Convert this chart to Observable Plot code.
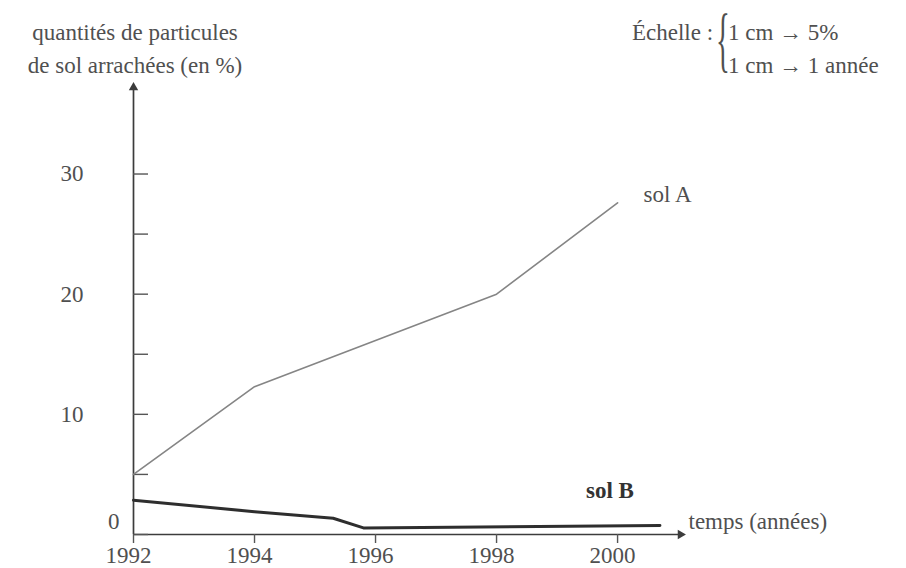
<!DOCTYPE html>
<html><head><meta charset="utf-8">
<script src="https://cdn.jsdelivr.net/npm/d3@7"></script>
<script src="https://cdn.jsdelivr.net/npm/@observablehq/plot@0.6"></script>
<style>
body{margin:0;background:#fff;font-family:"Liberation Serif",serif;color:#505050}
#wrap{position:relative;width:906px;height:568px;overflow:hidden}
#head{position:relative;height:80px;font-size:23px}
#head div{position:absolute;white-space:nowrap;line-height:33px}
#brace{font-size:72px;line-height:1 !important;transform:scaleX(0.4);transform-origin:left top;font-weight:normal}
#chart svg{display:block}
</style></head><body>
<div id="wrap">
  <div id="head">
    <div id="ytitle" style="left:0;width:270px;top:16px;text-align:center"></div>
    <div id="scaleLbl" style="left:632px;top:16px"></div>
    <div id="brace" style="left:716px;top:3px">{</div>
    <div id="scaleTxt" style="left:728px;top:16px"></div>
  </div>
  <div id="chart"></div>
</div>
<script>
// ---- data ----
const yearsA = [1992, 1994, 1998, 2000];
const valuesA = [5, 12.3, 20, 27.6];
const yearsB = [1992, 1994, 1995.3, 1995.8, 2000.7];
const valuesB = [2.85, 1.9, 1.35, 0.55, 0.75];
const xTicks = [1992, 1994, 1996, 1998, 2000];
const yTicks = [0, 5, 10, 15, 20, 25, 30];
const yLabelTicks = [10, 20, 30];
const xDomain = [1992, 2001.04];
const yDomain = [0, 37.2];
const yTitleLines = ["quantités de particules", "de sol arrachées (en %)"];
const scaleLabel = "Échelle :";
const scaleLines = ["1 cm → 5%", "1 cm → 1 année"];
const xTitle = "temps (années)";
const nameA = "sol A", nameB = "sol B";

document.getElementById("ytitle").innerHTML = yTitleLines.join("<br>");
document.getElementById("scaleLbl").textContent = scaleLabel;
document.getElementById("scaleTxt").innerHTML = scaleLines.join("<br>");

const dataA = yearsA.map((x, i) => ({x, y: valuesA[i]}));
const dataB = yearsB.map((x, i) => ({x, y: valuesB[i]}));
const tips = [{x: xDomain[0], y: yDomain[1], r: 0}, {x: xDomain[1], y: yDomain[0], r: 90}];

const chart = Plot.plot({
  width: 906, height: 488,
  marginLeft: 133, marginRight: 226, marginTop: 7, marginBottom: 34,
  x: {domain: xDomain, label: null},
  y: {domain: yDomain, label: null},
  style: {fontFamily: "Liberation Serif", fontSize: "23px", color: "#505050", background: "transparent"},
  marks: [
    Plot.ruleY([yDomain[0]], {stroke: "#3c3c3c", strokeWidth: 1.7}),
    Plot.ruleX([xDomain[0]], {stroke: "#3c3c3c", strokeWidth: 1.7}),
    Plot.dot(tips, {x: "x", y: "y", rotate: "r", symbol: "triangle", r: 3.5, fill: "#3c3c3c", stroke: null}),
    Plot.axisY({ticks: yTicks, tickSize: 15, dx: 15, tickFormat: () => "", stroke: "#555", strokeWidth: 1.4, label: null}),
    Plot.axisY({ticks: yLabelTicks, tickSize: 0, tickPadding: 50, label: null, fill: "#505050"}),
    Plot.text(["0"], {frameAnchor: "bottom-left", textAnchor: "end", dx: -14, dy: -6, fill: "#505050"}),
    Plot.axisX({ticks: xTicks, tickSize: 9, tickFormat: () => "", stroke: "#555", strokeWidth: 1.4, label: null}),
    Plot.axisX({ticks: xTicks, tickSize: 0, tickPadding: 12, dx: -5, tickFormat: "d", label: null, fill: "#505050"}),
    Plot.text([xTitle], {frameAnchor: "bottom-right", textAnchor: "start", dx: 8, dy: -6, fill: "#505050"}),
    Plot.line(dataA, {x: "x", y: "y", stroke: "#858585", strokeWidth: 1.6}),
    Plot.line(dataB, {x: "x", y: "y", stroke: "#2e2e2e", strokeWidth: 3}),
    Plot.text(dataA, Plot.selectLast({x: "x", y: "y", text: () => nameA, textAnchor: "start", dx: 26, dy: -8, fill: "#505050"})),
    Plot.text(dataB, Plot.selectLast({x: "x", y: "y", text: () => nameB, textAnchor: "end", dx: -26, dy: -35, fontWeight: "bold", fill: "#333"}))
  ]
});
document.getElementById("chart").appendChild(chart);
</script>
</body></html>
